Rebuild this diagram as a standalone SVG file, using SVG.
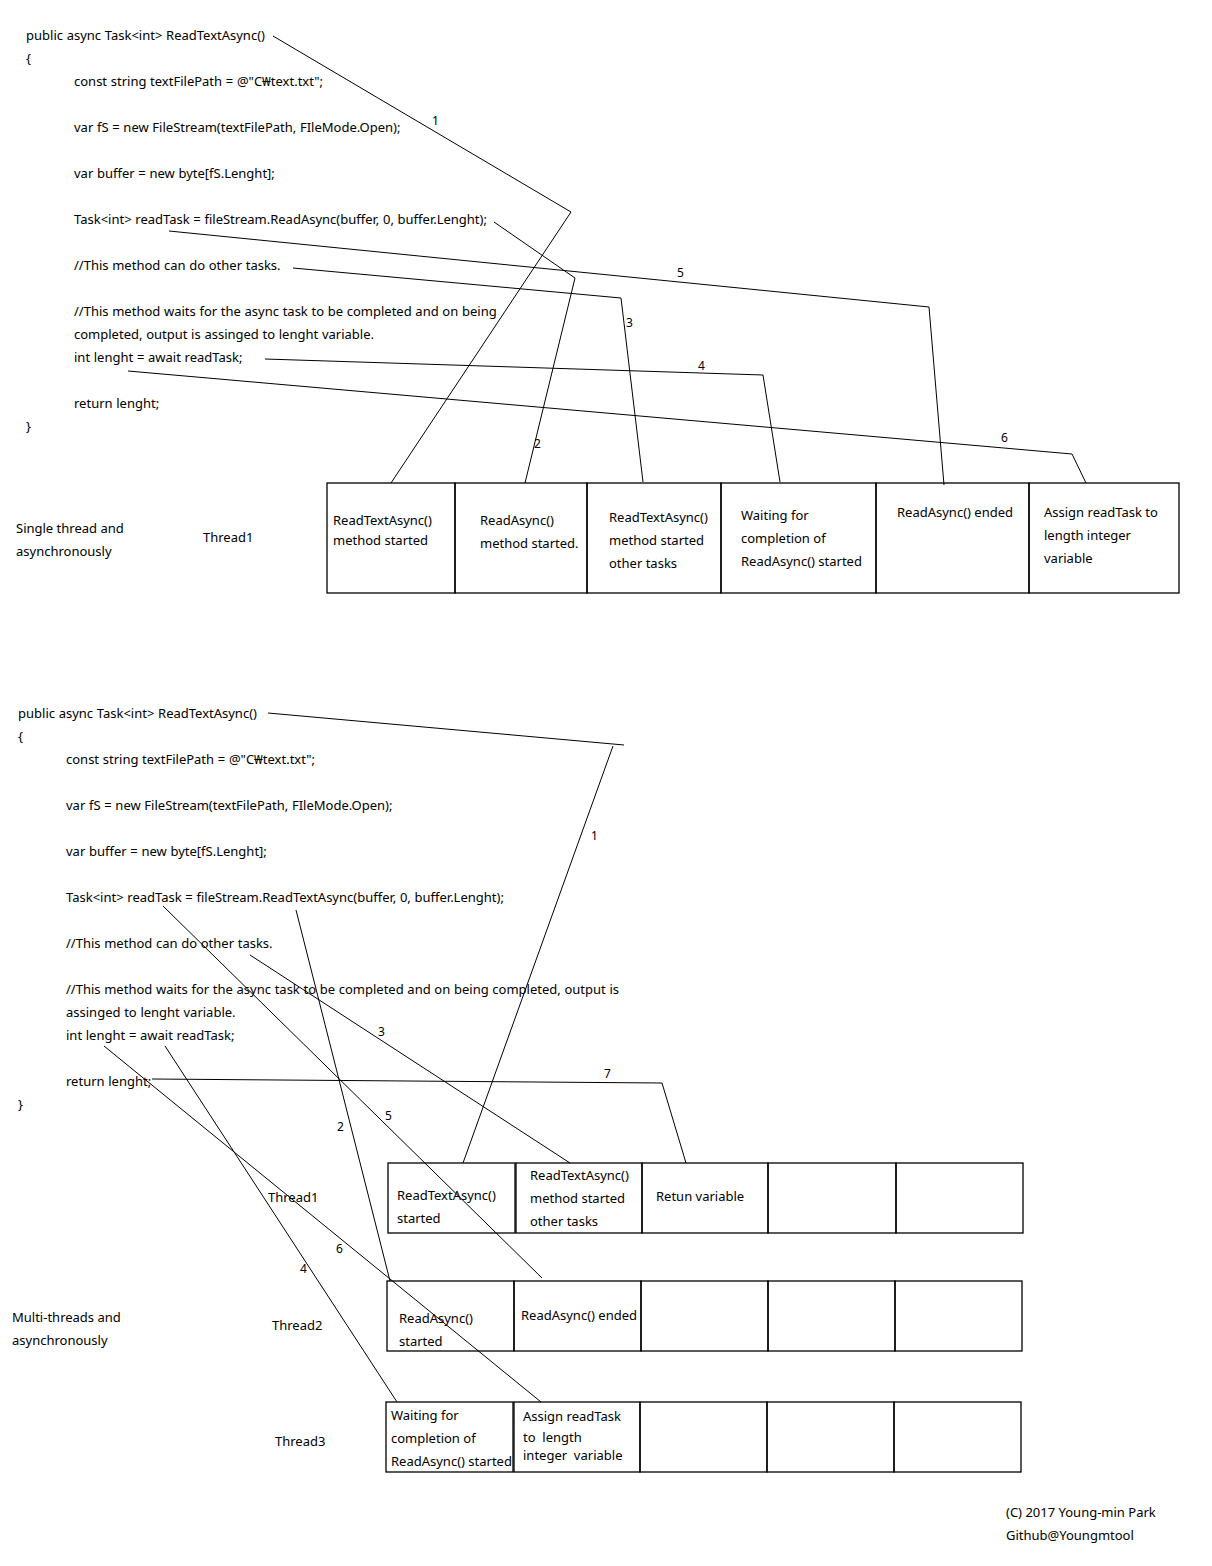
<svg xmlns="http://www.w3.org/2000/svg" width="1212" height="1566" viewBox="0 0 1212 1566">
<style>
text{font-family:"Noto Sans","Open Sans","DejaVu Sans",sans-serif;font-size:13px;fill:#000}
.code{word-spacing:0.3px}
.pre{white-space:pre}
.lbl{font-size:12px}
.c{fill:none;stroke:#000;stroke-width:1}
.box{fill:none;stroke:#000;stroke-width:1.3}
</style>
<rect width="1212" height="1566" fill="#fff"/>
<g id="code-top" class="code">
<text x="26" y="40">public async Task&lt;int&gt; ReadTextAsync()</text>
<text x="26" y="63">{</text>
<text x="74" y="86">const string textFilePath = @"C₩text.txt";</text>
<text x="74" y="132">var fS = new FileStream(textFilePath, FIleMode.Open);</text>
<text x="74" y="178">var buffer = new byte[fS.Lenght];</text>
<text x="74" y="224">Task&lt;int&gt; readTask = fileStream.ReadAsync(buffer, 0, buffer.Lenght);</text>
<text x="74" y="270">//This method can do other tasks.</text>
<text x="74" y="316">//This method waits for the async task to be completed and on being</text>
<text x="74" y="339">completed, output is assinged to lenght variable.</text>
<text x="74" y="362">int lenght = await readTask;</text>
<text x="74" y="408">return lenght;</text>
<text x="26" y="431">}</text>
</g>
<g id="connectors-top">
<polyline class="c" points="273,36 571,212 391,483"/>
<polyline class="c" points="494,222 575,278 525,483"/>
<polyline class="c" points="293,268 621,298 643,482"/>
<polyline class="c" points="265,359 763,375 780,482"/>
<polyline class="c" points="169,231 929,307 944,485"/>
<polyline class="c" points="128,371 1072,454 1086,483"/>
<text class="lbl" x="432" y="125">1</text>
<text class="lbl" x="534" y="448">2</text>
<text class="lbl" x="626" y="327">3</text>
<text class="lbl" x="698" y="370">4</text>
<text class="lbl" x="677" y="277">5</text>
<text class="lbl" x="1001" y="442">6</text>
</g>
<g id="single-labels">
<text x="16" y="533">Single thread and</text>
<text x="16" y="556">asynchronously</text>
<text x="203" y="542">Thread1</text>
</g>
<g id="s1"><rect class="box" x="327" y="483" width="128" height="110"/><text x="333" y="525">ReadTextAsync()</text><text x="333" y="545">method started</text></g>
<g id="s2"><rect class="box" x="455" y="483" width="132" height="110"/><text x="480" y="525">ReadAsync()</text><text x="480" y="548">method started.</text></g>
<g id="s3"><rect class="box" x="587" y="483" width="134" height="110"/><text x="609" y="522">ReadTextAsync()</text><text x="609" y="545">method started</text><text x="609" y="568">other tasks</text></g>
<g id="s4"><rect class="box" x="721" y="483" width="155" height="110"/><text x="741" y="520">Waiting for</text><text x="741" y="543">completion of</text><text x="741" y="566">ReadAsync() started</text></g>
<g id="s5"><rect class="box" x="876" y="483" width="153" height="110"/><text x="897" y="517">ReadAsync() ended</text></g>
<g id="s6"><rect class="box" x="1029" y="483" width="150" height="110"/><text x="1044" y="517">Assign readTask to</text><text x="1044" y="540">length integer</text><text x="1044" y="563">variable</text></g>
<g id="code-bottom" class="code">
<text x="18" y="718">public async Task&lt;int&gt; ReadTextAsync()</text>
<text x="18" y="741">{</text>
<text x="66" y="764">const string textFilePath = @"C₩text.txt";</text>
<text x="66" y="810">var fS = new FileStream(textFilePath, FIleMode.Open);</text>
<text x="66" y="856">var buffer = new byte[fS.Lenght];</text>
<text x="66" y="902">Task&lt;int&gt; readTask = fileStream.ReadTextAsync(buffer, 0, buffer.Lenght);</text>
<text x="66" y="948">//This method can do other tasks.</text>
<text x="66" y="994">//This method waits for the async task to be completed and on being completed, output is</text>
<text x="66" y="1017">assinged to lenght variable.</text>
<text x="66" y="1040">int lenght = await readTask;</text>
<text x="66" y="1086">return lenght;</text>
<text x="18" y="1109">}</text>
</g>
<g id="connectors-bottom">
<path class="c" d="M268,713 L624,745 M613,746 L463,1163"/>
<line class="c" x1="296" y1="910" x2="390" y2="1281"/>
<line class="c" x1="250" y1="955" x2="570" y2="1163"/>
<line class="c" x1="165" y1="1046" x2="397" y2="1402"/>
<line class="c" x1="163" y1="906" x2="542" y2="1278"/>
<line class="c" x1="104" y1="1046" x2="541" y2="1402"/>
<polyline class="c" points="152,1079 662,1083 686,1163"/>
<text class="lbl" x="591" y="840">1</text>
<text class="lbl" x="337" y="1131">2</text>
<text class="lbl" x="378" y="1036">3</text>
<text class="lbl" x="300" y="1273">4</text>
<text class="lbl" x="385" y="1120">5</text>
<text class="lbl" x="336" y="1253">6</text>
<text class="lbl" x="604" y="1078">7</text>
</g>
<g id="multi-labels">
<text x="12" y="1322">Multi-threads and</text>
<text x="12" y="1345">asynchronously</text>
<text x="268" y="1202">Thread1</text>
<text x="272" y="1330">Thread2</text>
<text x="275" y="1446">Thread3</text>
</g>
<g id="t1-1"><rect class="box" x="388" y="1163" width="127" height="70"/><text x="397" y="1200">ReadTextAsync()</text><text x="397" y="1223">started</text></g>
<g id="t1-2"><rect class="box" x="516" y="1163" width="126" height="70"/><text x="530" y="1180">ReadTextAsync()</text><text x="530" y="1203">method started</text><text x="530" y="1226">other tasks</text></g>
<g id="t1-3"><rect class="box" x="642" y="1163" width="126" height="70"/><text x="656" y="1201">Retun variable</text></g>
<g id="t1-4"><rect class="box" x="768" y="1163" width="128" height="70"/></g>
<g id="t1-5"><rect class="box" x="896" y="1163" width="127" height="70"/></g>
<g id="t2-1"><rect class="box" x="387" y="1281" width="127" height="70"/><text x="399" y="1323">ReadAsync()</text><text x="399" y="1346">started</text></g>
<g id="t2-2"><rect class="box" x="514" y="1281" width="127" height="70"/><text x="521" y="1320">ReadAsync() ended</text></g>
<g id="t2-3"><rect class="box" x="641" y="1281" width="127" height="70"/></g>
<g id="t2-4"><rect class="box" x="768" y="1281" width="127" height="70"/></g>
<g id="t2-5"><rect class="box" x="895" y="1281" width="127" height="70"/></g>
<g id="t3-1"><rect class="box" x="386" y="1402" width="127" height="70"/><text x="391" y="1420">Waiting for</text><text x="391" y="1443">completion of</text><text x="391" y="1466">ReadAsync() started</text></g>
<g id="t3-2"><rect class="box" x="514" y="1402" width="126" height="70"/><text x="523" y="1421">Assign readTask</text><text class="pre" x="523" y="1442">to  length</text><text class="pre" x="523" y="1460">integer  variable</text></g>
<g id="t3-3"><rect class="box" x="640" y="1402" width="127" height="70"/></g>
<g id="t3-4"><rect class="box" x="767" y="1402" width="127" height="70"/></g>
<g id="t3-5"><rect class="box" x="894" y="1402" width="127" height="70"/></g>
<g id="credit">
<text x="1006" y="1517">(C) 2017 Young-min Park</text>
<text x="1006" y="1540">Github@Youngmtool</text>
</g>
</svg>
